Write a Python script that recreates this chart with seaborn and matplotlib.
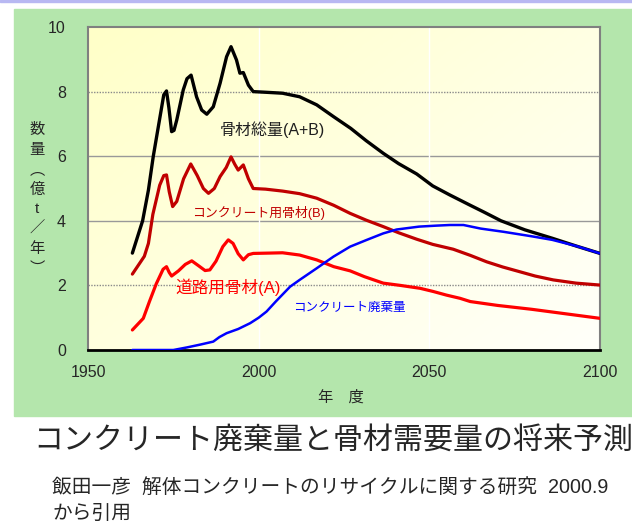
import numpy as np
import seaborn as sns
import matplotlib.pyplot as plt
from matplotlib.patches import Rectangle
from matplotlib.colors import LinearSegmentedColormap

# Total aggregate demand (A+B), 10^8 t / year
total_years = [1963, 1966, 1967.7, 1969.1, 1971.1, 1972.2, 1973, 1973.7, 1974.5, 1975.2, 1976,
               1977.9, 1979, 1980.2, 1981.8, 1983.3, 1984.8, 1986.7, 1988.7, 1990.6, 1991.9,
               1993.5, 1994.5, 1995.5, 1997, 1998.4, 2002, 2007, 2012, 2017, 2022, 2027,
               2031.5, 2036.5, 2041, 2046.3, 2051, 2056, 2062, 2066, 2071, 2078, 2086, 2093, 2100]
total_vals = [3.0, 4.0, 4.95, 5.98, 7.22, 7.9, 8.02, 7.5, 6.76, 6.8, 7.12,
              8.05, 8.4, 8.51, 7.84, 7.43, 7.30, 7.53, 8.26, 9.08, 9.39,
              8.98, 8.57, 8.59, 8.2, 8.0, 7.98, 7.95, 7.84, 7.59, 7.22, 6.86,
              6.48, 6.09, 5.77, 5.45, 5.08, 4.8, 4.48, 4.27, 4.0, 3.72, 3.46, 3.22, 2.99]

# Aggregate for concrete (B)
concrete_years = [1963, 1966.5, 1967.7, 1969, 1971, 1972.2, 1973, 1973.8, 1974.8, 1976, 1978,
                  1980.1, 1982, 1983.8, 1985.3, 1987, 1988.7, 1990.5, 1991.9, 1993, 1994,
                  1995.5, 1997, 1998.4, 2002, 2007, 2012, 2017, 2022, 2026.8, 2031.5, 2036.5,
                  2041, 2046.3, 2051, 2057, 2062, 2066.8, 2071.5, 2076.6, 2081, 2086.3, 2093, 2100]
concrete_vals = [2.35, 2.9, 3.3, 4.2, 5.1, 5.4, 5.42, 4.9, 4.44, 4.6, 5.3,
                 5.76, 5.4, 5.0, 4.85, 5.0, 5.37, 5.65, 5.98, 5.75, 5.57,
                 5.73, 5.3, 5.0, 4.98, 4.92, 4.84, 4.7, 4.48, 4.23, 4.02, 3.82,
                 3.63, 3.43, 3.27, 3.12, 2.93, 2.73, 2.57, 2.42, 2.29, 2.17, 2.07, 2.01]

# Aggregate for roads (A)
road_years = [1963, 1966.2, 1968, 1970, 1972, 1973, 1973.8, 1974.5, 1976.5, 1978.5, 1980.4,
              1982.5, 1984.3, 1985.7, 1987.5, 1989.5, 1991.1, 1992.5, 1994, 1995.5, 1997,
              1998.4, 2003, 2007, 2012, 2017, 2022, 2026.8, 2031, 2036.5, 2041.5, 2047.3,
              2051.2, 2055, 2059, 2062, 2070, 2080, 2090, 2100]
road_vals = [0.62, 0.98, 1.5, 2.05, 2.5, 2.58, 2.4, 2.29, 2.45, 2.65, 2.76,
             2.6, 2.46, 2.48, 2.75, 3.2, 3.41, 3.3, 2.98, 2.79, 2.95,
             2.99, 3.0, 3.01, 2.94, 2.79, 2.58, 2.45, 2.27, 2.07, 2.0, 1.91,
             1.81, 1.7, 1.6, 1.5, 1.38, 1.26, 1.12, 0.98]

# Concrete waste
waste_years = [1963, 1975, 1979, 1983, 1986.7, 1988.5, 1990.6, 1994, 1997.5, 2000, 2002.3,
               2005, 2009.2, 2012, 2017, 2021.9, 2026.8, 2031.7, 2036.5, 2040.4, 2047,
               2052, 2056, 2060, 2065, 2071.7, 2080, 2086, 2093, 2100]
waste_vals = [0.0, 0.0, 0.08, 0.17, 0.26, 0.4, 0.52, 0.65, 0.83, 1.0, 1.19,
              1.5, 1.96, 2.17, 2.53, 2.89, 3.2, 3.41, 3.61, 3.73, 3.82,
              3.85, 3.87, 3.87, 3.76, 3.66, 3.52, 3.41, 3.22, 2.99]

x_ticks = [1950, 2000, 2050, 2100]
y_ticks = [0, 2, 4, 6, 8, 10]
ylabel_chars = ["数", "量", "︵", "億", "t", "／", "年", "︶"]

sns.set_style("white")
plt.rcParams['font.family'] = ['Liberation Sans', 'Noto Sans CJK JP', 'DejaVu Sans']

W, H = 632, 525
fig = plt.figure(figsize=(W / 100, H / 100), dpi=100)
fig.patch.set_facecolor('white')

# slide decoration: lavender top line and green panel
fig.add_artist(Rectangle((0, 1 - 2 / H), 1, 2 / H, transform=fig.transFigure,
                         color='#B8B8F2', zorder=0))
fig.add_artist(Rectangle((14 / W, 1 - 416 / H), (W - 14) / W, (416 - 9) / H,
                         transform=fig.transFigure, color='#B4E6AC', zorder=0))

ax = fig.add_axes([88 / W, 1 - 350 / H, 512 / W, 323 / H])

# light yellow gradient in plot area
gx, gy = np.meshgrid(np.linspace(0, 1, 200), np.linspace(0, 1, 200))
grad = np.clip(0.55 * (1 - gx) + 0.45 * gy, 0, 1)
cmap = LinearSegmentedColormap.from_list('bg', ['#FFFFFA', '#FFFFC8'])
ax.imshow(grad, extent=[0, 1, 0, 1], origin='lower', transform=ax.transAxes,
          aspect='auto', cmap=cmap, zorder=0)

# gridlines
for v in [4, 6]:
    ax.axhline(v, color='#999999', lw=1.0, zorder=1)
for v in [2, 8]:
    ax.axhline(v, color='#8a8a8a', lw=1.0, ls=(0, (1, 1)), zorder=1)
for v in [2000, 2050]:
    ax.axvline(v, color='white', lw=1.0, zorder=1)

sns.lineplot(x=total_years, y=total_vals, ax=ax, color='black', lw=2.4, sort=False, zorder=3)
sns.lineplot(x=concrete_years, y=concrete_vals, ax=ax, color='#C00000', lw=2.3, sort=False, zorder=3)
sns.lineplot(x=road_years, y=road_vals, ax=ax, color='#FF0000', lw=2.3, sort=False, zorder=3)
sns.lineplot(x=waste_years, y=waste_vals, ax=ax, color='#0000FF', lw=1.8, sort=False, zorder=4)

ax.set_xlim(1950, 2100)
ax.set_ylim(0, 10)
ax.set_xticks(x_ticks)
ax.set_yticks(y_ticks)
ax.tick_params(axis='x', direction='in', length=4, width=1.2, color='black',
               pad=11, labelsize=11.5)
ax.tick_params(axis='y', length=0, pad=16, labelsize=11.5)
ax.set_xlabel("")
ax.set_ylabel("")

for side in ['top', 'right', 'left']:
    ax.spines[side].set_color('#808080')
    ax.spines[side].set_linewidth(1.5)
ax.spines['bottom'].set_color('black')
ax.spines['bottom'].set_linewidth(2)

# series labels
ax.text(1988.7, 6.81, "骨材総量(A+B)", color='#202020', fontsize=11.5, ha='left', va='center', zorder=5)
ax.text(1980.5, 4.24, "コンクリート用骨材(B)", color='#C00000', fontsize=9.3, ha='left', va='center', zorder=5)
ax.text(1975.5, 1.95, "道路用骨材(A)", color='#FF0000', fontsize=12, ha='left', va='center', zorder=5)
ax.text(2010.1, 1.30, "コンクリート廃棄量", color='#0000FF', fontsize=9, ha='left', va='center', zorder=5)

# axis labels
for i, ch in enumerate(ylabel_chars):
    fig.text(37 / W, 1 - (130 + 19.8 * i) / H, ch, fontsize=11, ha='center', va='center')
fig.text(341 / W, 1 - 397 / H, "年　度", fontsize=11, ha='center', va='center')

# title and citation
fig.text(333 / W, 1 - 441 / H, "コンクリート廃棄量と骨材需要量の将来予測", fontsize=21.6,
         ha='center', va='center')
fig.text(52 / W, 1 - 487 / H, "飯田一彦  解体コンクリートのリサイクルに関する研究  2000.9",
         fontsize=14.2, ha='left', va='center')
fig.text(52 / W, 1 - 513 / H, "から引用", fontsize=14.2, ha='left', va='center')

fig.savefig("out.png", dpi=100)
